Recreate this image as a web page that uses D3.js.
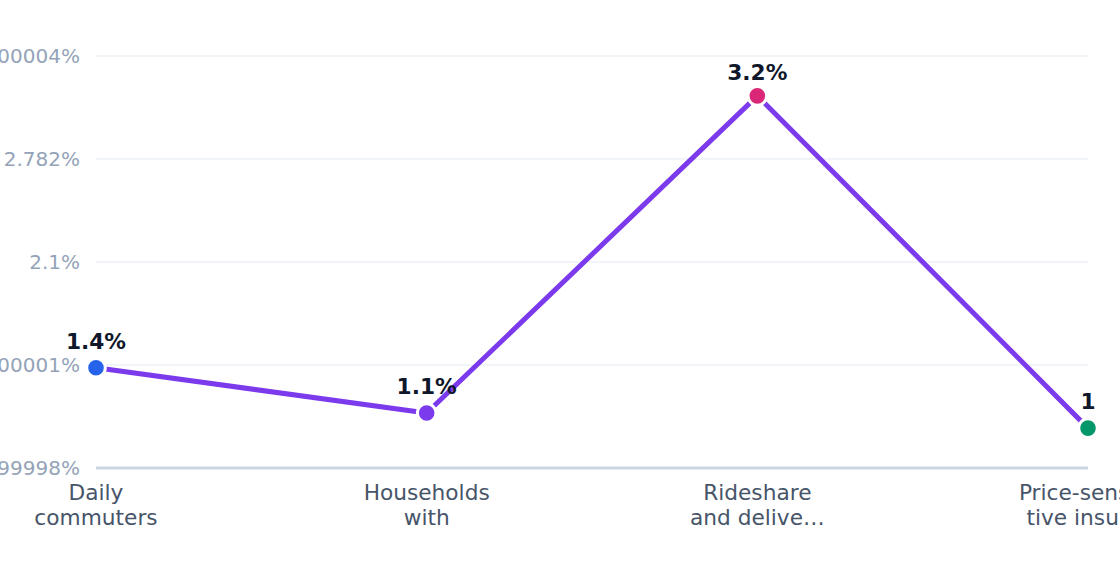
<!DOCTYPE html>
<html>
<head>
<meta charset="utf-8">
<script src="https://cdn.jsdelivr.net/npm/d3@7"></script>
<style>
  html, body { margin: 0; padding: 0; background: #fff; }
  svg { display: block; font-family: "DejaVu Sans", sans-serif; }
</style>
</head>
<body>
<div id="chart"></div>
<script>
// data
const categories = ['Daily commuters', 'Households with', 'Rideshare and delive…', 'Price-sensitive insur…'];
const categoryLines = [
  ['Daily', 'commuters'],
  ['Households', 'with'],
  ['Rideshare', 'and delive…'],
  ['Price-sensi…', 'tive insur…'],
];
const values = [1.4, 1.1, 3.2, 1.0];
const valueLabels = ['1.4%', '1.1%', '3.2%', '1'];
const dotColors = ['#2563eb', '#7c3aed', '#db2777', '#059669'];
const yTicks = [0.736, 1.418, 2.1, 2.782, 3.464];
const yTickLabels = ['0.7359999999999998%', '1.4180000000000001%', '2.1%', '2.782%', '3.4640000000000004%'];

const width = 1120;
const height = 572;
const margin = { top: 56, right: 32, bottom: 104, left: 96 };

const svg = d3.select('#chart').append('svg')
  .attr('width', width)
  .attr('height', height);

const x = d3.scalePoint()
  .domain(categories)
  .range([margin.left, width - margin.right]);

const y = d3.scaleLinear()
  .domain([yTicks[0], yTicks[yTicks.length - 1]])
  .range([height - margin.bottom, margin.top]);

// grid
svg.append('g')
  .selectAll('line')
  .data(yTicks.slice(1))
  .join('line')
  .attr('x1', margin.left)
  .attr('x2', width - margin.right)
  .attr('y1', (d) => y(d))
  .attr('y2', (d) => y(d))
  .attr('stroke', '#f1f5f9')
  .attr('stroke-width', 2);

// baseline
svg.append('line')
  .attr('x1', margin.left)
  .attr('x2', width - margin.right)
  .attr('y1', y(yTicks[0]))
  .attr('y2', y(yTicks[0]))
  .attr('stroke', '#cbd5e1')
  .attr('stroke-width', 3);

// y tick labels (long float strings run off the left edge, as in the source)
svg.append('g')
  .selectAll('text')
  .data(yTicks)
  .join('text')
  .attr('x', margin.left - 16)
  .attr('y', (d) => y(d))
  .attr('dy', '0.35em')
  .attr('text-anchor', 'end')
  .attr('font-size', 20)
  .attr('fill', '#94a3b8')
  .text((d, i) => yTickLabels[i]);

// x labels
const xl = svg.append('g')
  .selectAll('text')
  .data(categories)
  .join('text')
  .attr('x', (d) => x(d))
  .attr('y', height - margin.bottom + 32)
  .attr('text-anchor', 'middle')
  .attr('font-size', 21.7)
  .attr('fill', '#475569');

xl.selectAll('tspan')
  .data((d, i) => categoryLines[i])
  .join('tspan')
  .attr('x', function () { return this.parentNode.getAttribute('x'); })
  .attr('dy', (d, i) => (i === 0 ? 0 : 25))
  .text((d) => d);

// line
const line = d3.line()
  .x((d, i) => x(categories[i]))
  .y((d) => y(d));

svg.append('path')
  .datum(values)
  .attr('fill', 'none')
  .attr('stroke', '#7c3aed')
  .attr('stroke-width', 5)
  .attr('stroke-linejoin', 'round')
  .attr('d', line);

// dots
svg.append('g')
  .selectAll('circle')
  .data(values)
  .join('circle')
  .attr('cx', (d, i) => x(categories[i]))
  .attr('cy', (d) => y(d))
  .attr('r', 9.3)
  .attr('fill', (d, i) => dotColors[i])
  .attr('stroke', '#fff')
  .attr('stroke-width', 3);

// value labels
svg.append('g')
  .selectAll('text')
  .data(values)
  .join('text')
  .attr('x', (d, i) => x(categories[i]))
  .attr('y', (d) => Math.max(y(d) - 19, margin.top + 24))
  .attr('text-anchor', 'middle')
  .attr('font-size', 21.7)
  .attr('font-weight', 'bold')
  .attr('fill', '#0f172a')
  .text((d, i) => valueLabels[i]);
</script>
</body>
</html>
